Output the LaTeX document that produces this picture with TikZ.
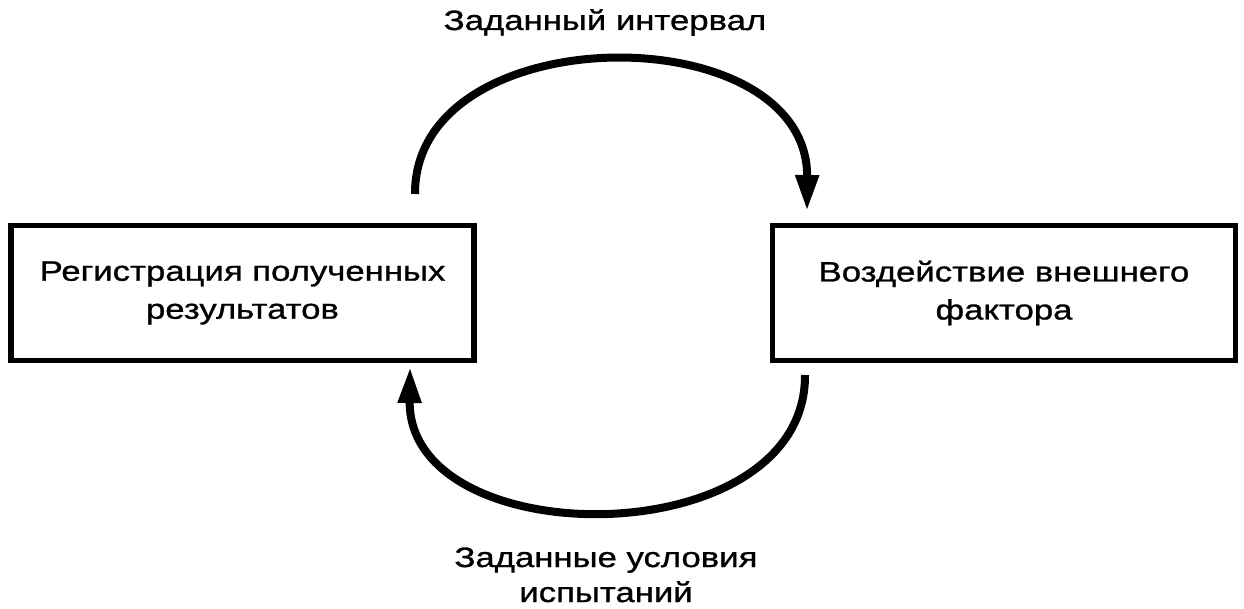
\documentclass[tikz,border=0pt]{standalone}
\usepackage{fontspec}
\setmainfont{Liberation Sans}[FakeStretch=1.24, FakeBold=1]
\usetikzlibrary{arrows.meta}
\tikzset{
  box/.style={draw=black, line width=5.5pt, minimum width=463pt, minimum height=134.5pt, align=center, inner sep=0pt, font=\fontsize{28pt}{38pt}\selectfont},
  lbl/.style={align=center, inner sep=0pt, anchor=base, font=\fontsize{28pt}{35pt}\selectfont},
  arc/.style={line width=8pt, -{Triangle[length=36pt, width=22pt]}}
}
\begin{document}
\begin{tikzpicture}[x=1pt, y=-1pt]
\useasboundingbox (0,0) rectangle (1244,609);
\node[box] (L) at (242.5,293) {Регистрация полученных\\результатов};
\node[box] (R) at (1004,293) {Воздействие внешнего\\фактора};
\node[lbl] (top) at (605,30) {Заданный интервал};
\node[lbl] (bot) at (606,602) {Заданные условия\\испытаний};
\coordinate (t1) at (415,194);
\coordinate (t2) at (807,211);
\coordinate (b1) at (805,375);
\coordinate (b2) at (410,367);
\draw[arc] (t1) .. controls (414,16) and (808,14) .. (t2);
\draw[arc] (b1) .. controls (806,556) and (408,556) .. (b2);
\end{tikzpicture}
\end{document}
